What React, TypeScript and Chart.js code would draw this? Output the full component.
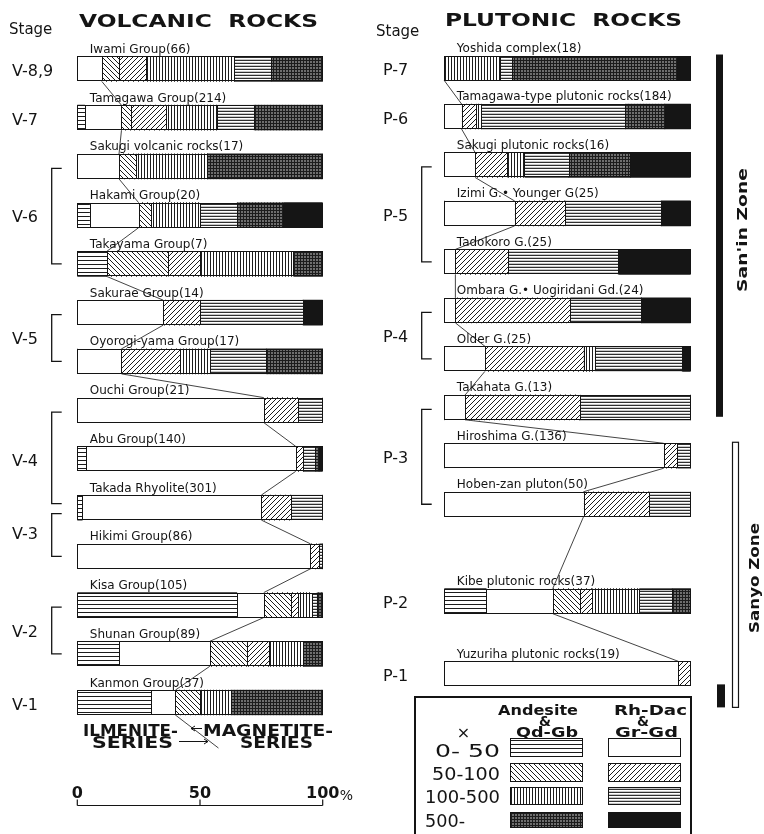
import React, { useEffect, useRef } from "react";
import { Chart, registerables } from "chart.js";

Chart.register(...registerables);

// ---------------- categories ----------------
const susceptibilityClasses = [
  "Andesite & Qd-Gb 0-50",
  "Rh-Dac & Gr-Gd 0-50",
  "Andesite & Qd-Gb 50-100",
  "Rh-Dac & Gr-Gd 50-100",
  "Andesite & Qd-Gb 100-500",
  "Rh-Dac & Gr-Gd 100-500",
  "Andesite & Qd-Gb 500-",
  "Rh-Dac & Gr-Gd 500-",
];
const legendRanges = ["0- 50", "50-100", "100-500", "500-"];
const scaleTicks = [0, 50, 100];

// ---------------- volcanic rocks (percent) ----------------
const volcanicGroups = [
  "Iwami Group(66)",
  "Tamagawa Group(214)",
  "Sakugi volcanic rocks(17)",
  "Hakami Group(20)",
  "Takayama Group(7)",
  "Sakurae Group(14)",
  "Oyorogi-yama Group(17)",
  "Ouchi Group(21)",
  "Abu Group(140)",
  "Takada Rhyolite(301)",
  "Hikimi Group(86)",
  "Kisa Group(105)",
  "Shunan Group(89)",
  "Kanmon Group(37)",
];
const volAnd0_50 = [0, 3, 0, 5, 12, 0, 0, 0, 3.5, 2, 0, 65, 17, 30];
const volRhy0_50 = [10, 15, 17, 20, 0, 35, 18, 76, 85.5, 73, 95, 11, 37, 10];
const volAnd50_100 = [7, 4, 7, 5, 25, 0, 0, 0, 0, 0, 0, 11, 15, 10];
const volRhy50_100 = [11, 14, 0, 0, 13, 15, 24, 14, 3, 12, 3.5, 3, 9, 0];
const volAnd100_500 = [36, 21, 29, 20, 38, 0, 12, 0, 0, 0, 0, 5.5, 14, 12.5];
const volRhy100_500 = [15, 15, 0, 15, 0, 42, 23, 10, 5, 13, 1.5, 2, 0, 0];
const volAnd500 = [21, 28, 47, 19, 12, 0, 23, 0, 1.5, 0, 0, 2.5, 8, 37.5];
const volRhy500 = [0, 0, 0, 16, 0, 8, 0, 0, 1.5, 0, 0, 0, 0, 0];

const volcanicStageLabels = ["V-8,9", "V-7", "V-6", "V-5", "V-4", "V-3", "V-2", "V-1"];
const volcanicStageFirst = [0, 1, 2, 5, 7, 9, 11, 13];
const volcanicStageLast = [0, 1, 4, 6, 9, 10, 12, 13];

// ---------------- plutonic rocks (percent) ----------------
const plutonicGroups = [
  "Yoshida complex(18)",
  "Tamagawa-type plutonic rocks(184)",
  "Sakugi plutonic rocks(16)",
  "Izimi G.• Younger G(25)",
  "Tadokoro G.(25)",
  "Ombara G.• Uogiridani Gd.(24)",
  "Older G.(25)",
  "Takahata G.(13)",
  "Hiroshima G.(136)",
  "Hoben-zan pluton(50)",
  "Kibe plutonic rocks(37)",
  "Yuzuriha plutonic rocks(19)",
];
const pluAnd0_50 = [0, 0, 0, 0, 0, 0, 0, 0, 0, 0, 17, 0];
const pluRhy0_50 = [0, 7, 12.5, 28.5, 4.5, 4.5, 16.5, 8.5, 89, 56.5, 27, 95];
const pluAnd50_100 = [0, 0, 0, 0, 0, 0, 0, 0, 0, 0, 11, 0];
const pluRhy50_100 = [0, 6, 13, 20.5, 21.5, 46.5, 40, 46.5, 5.5, 26.5, 5, 5];
const pluAnd100_500 = [22.5, 2, 7, 0, 0, 0, 4.5, 0, 0, 0, 19, 0];
const pluRhy100_500 = [5, 58.5, 18, 39, 44.5, 29, 35.5, 45, 5.5, 17, 13.5, 0];
const pluAnd500 = [67, 16, 25, 0, 0, 0, 0, 0, 0, 0, 7.5, 0];
const pluRhy500 = [5.5, 10.5, 24.5, 12, 29.5, 20, 3.5, 0, 0, 0, 0, 0];

// row slot of each plutonic bar on a half-row grid (layout)
const plutonicRowSlot = [0, 2, 4, 6, 8, 10, 12, 14, 16, 18, 22, 25];
const plutonicSlotCount = 26;

const plutonicStageLabels = ["P-7", "P-6", "P-5", "P-4", "P-3", "P-2", "P-1"];
const plutonicStageFirst = [0, 1, 2, 5, 7, 10, 11];
const plutonicStageLast = [0, 1, 4, 6, 9, 10, 11];

const volcanicMatrix = [volAnd0_50, volRhy0_50, volAnd50_100, volRhy50_100, volAnd100_500, volRhy100_500, volAnd500, volRhy500];
const plutonicMatrix = [pluAnd0_50, pluRhy0_50, pluAnd50_100, pluRhy50_100, pluAnd100_500, pluRhy100_500, pluAnd500, pluRhy500];

// ---------------- drawing helpers ----------------
const INK = "#141414";
const SANS = '"DejaVu Sans", "Liberation Sans", sans-serif';

function tile(ctx: CanvasRenderingContext2D, w: number, h: number, draw: (t: CanvasRenderingContext2D) => void) {
  const c = document.createElement("canvas");
  c.width = w;
  c.height = h;
  const t = c.getContext("2d")!;
  t.fillStyle = "#ffffff";
  t.fillRect(0, 0, w, h);
  draw(t);
  return ctx.createPattern(c, "repeat")!;
}

function makePatterns(ctx: CanvasRenderingContext2D): any[] {
  const ink = "#1c1c1c";
  return [
    tile(ctx, 1, 4, (t) => { t.fillStyle = ink; t.fillRect(0, 0, 1, 1); }),
    "#ffffff",
    tile(ctx, 5, 5, (t) => { t.fillStyle = ink; for (let i = 0; i < 5; i++) t.fillRect(i, i, 1, 1); }),
    tile(ctx, 5, 5, (t) => { t.fillStyle = ink; for (let i = 0; i < 5; i++) t.fillRect(i, 4 - i, 1, 1); }),
    tile(ctx, 3, 1, (t) => { t.fillStyle = ink; t.fillRect(0, 0, 1, 1); }),
    tile(ctx, 1, 3, (t) => { t.fillStyle = "#303030"; t.fillRect(0, 0, 1, 1); t.fillStyle = "#c8c8c8"; t.fillRect(0, 2, 1, 1); }),
    tile(ctx, 3, 3, (t) => {
      t.fillStyle = "#6e6e6e"; t.fillRect(0, 0, 3, 3);
      t.fillStyle = ink; t.fillRect(0, 0, 3, 1); t.fillRect(0, 0, 1, 3);
    }),
    "#151515",
  ];
}

function fitText(ctx: CanvasRenderingContext2D, text: string, x0: number, x1: number, baseline: number, font: string) {
  ctx.save();
  ctx.font = font;
  ctx.fillStyle = INK;
  ctx.textAlign = "left";
  ctx.textBaseline = "alphabetic";
  const w = ctx.measureText(text).width || 1;
  ctx.translate(x0, baseline);
  ctx.scale((x1 - x0) / w, 1);
  ctx.fillText(text, 0, 0);
  ctx.restore();
}

function rotatedText(ctx: CanvasRenderingContext2D, text: string, cx: number, cy: number, length: number, font: string) {
  ctx.save();
  ctx.font = font;
  ctx.fillStyle = INK;
  ctx.translate(cx, cy);
  ctx.rotate(-Math.PI / 2);
  const w = ctx.measureText(text).width || 1;
  ctx.scale(length / w, 1);
  ctx.textAlign = "center";
  ctx.textBaseline = "middle";
  ctx.fillText(text, 0, 0);
  ctx.restore();
}

function seg(ctx: CanvasRenderingContext2D, x0: number, y0: number, x1: number, y1: number, lw = 1) {
  ctx.save();
  ctx.strokeStyle = INK;
  ctx.lineWidth = lw;
  ctx.beginPath();
  ctx.moveTo(x0, y0);
  ctx.lineTo(x1, y1);
  ctx.stroke();
  ctx.restore();
}

function arrowHead(ctx: CanvasRenderingContext2D, x: number, y: number, dir: number) {
  seg(ctx, x, y, x - dir * 4, y - 2.5, 1);
  seg(ctx, x, y, x - dir * 4, y + 2.5, 1);
}

function rowsGeometry(chart: any, matrix: number[][], n: number) {
  const xs = chart.scales.x;
  const meta0 = chart.getDatasetMeta(0);
  const out: any[] = [];
  for (let i = 0; i < n; i++) {
    const el: any = meta0.data[i];
    const h = el.height || 25;
    const vals = matrix.map((a) => a[i]);
    let cum = 0;
    const cuts: number[] = [];
    vals.forEach((v) => { if (v > 0) { cum += v; cuts.push(cum); } });
    cuts.pop();
    out.push({
      y: el.y,
      top: el.y - h / 2,
      bottom: el.y + h / 2,
      left: xs.getPixelForValue(0),
      right: xs.getPixelForValue(cum),
      cuts: cuts.map((c) => xs.getPixelForValue(c)),
      split: xs.getPixelForValue(vals[0] + vals[1]),
    });
  }
  return out;
}

function drawBars(ctx: CanvasRenderingContext2D, rows: any[], names: string[]) {
  ctx.save();
  ctx.strokeStyle = INK;
  ctx.lineWidth = 1;
  rows.forEach((r) => {
    const t = Math.round(r.top) + 0.5;
    const b = Math.round(r.bottom) - 0.5;
    const l = Math.round(r.left) + 0.5;
    const rr = Math.round(r.right) - 0.5;
    ctx.strokeRect(l, t, rr - l, b - t);
    r.cuts.forEach((x: number) => {
      const xx = Math.round(x) + 0.5;
      ctx.beginPath();
      ctx.moveTo(xx, t);
      ctx.lineTo(xx, b);
      ctx.stroke();
    });
  });
  ctx.restore();
  // connectors along the ilmenite / magnetite boundary
  for (let i = 0; i < rows.length - 1; i++) {
    seg(ctx, rows[i].split, rows[i].bottom, rows[i + 1].split, rows[i + 1].top, 0.8);
  }
  // group labels
  ctx.save();
  ctx.fillStyle = INK;
  ctx.font = `12px ${SANS}`;
  ctx.textAlign = "left";
  ctx.textBaseline = "alphabetic";
  rows.forEach((r, i) => ctx.fillText(names[i], r.left + 12.5, r.top - 3.5));
  ctx.restore();
}

function drawStages(ctx: CanvasRenderingContext2D, rows: any[], labels: string[], first: number[], last: number[], labelX: number, bracketX: number) {
  ctx.save();
  ctx.fillStyle = INK;
  ctx.font = `16px ${SANS}`;
  ctx.textAlign = "left";
  ctx.textBaseline = "middle";
  labels.forEach((lab, s) => {
    const a = rows[first[s]];
    const b = rows[last[s]];
    ctx.fillText(lab, labelX, (a.y + b.y) / 2 + 3);
    if (first[s] !== last[s]) {
      let top = a.y + 2;
      let bot = b.y;
      if (s + 1 < labels.length && first[s + 1] === last[s]) bot -= 4;
      if (s > 0 && last[s - 1] === first[s]) top += 4;
      ctx.strokeStyle = INK;
      ctx.lineWidth = 1.3;
      ctx.beginPath();
      ctx.moveTo(bracketX + 10, top);
      ctx.lineTo(bracketX, top);
      ctx.lineTo(bracketX, bot);
      ctx.lineTo(bracketX + 10, bot);
      ctx.stroke();
    }
  });
  ctx.restore();
}

const volcanicDecor = {
  id: "volcanicDecor",
  afterDraw(chart: any) {
    const ctx: CanvasRenderingContext2D = chart.ctx;
    const rows = rowsGeometry(chart, volcanicMatrix, volcanicGroups.length);
    drawBars(ctx, rows, volcanicGroups);
    drawStages(ctx, rows, volcanicStageLabels, volcanicStageFirst, volcanicStageLast, 12, 51.7);

    fitText(ctx, "VOLCANIC  ROCKS", 79, 318, 26.7, `bold 17px ${SANS}`);
    ctx.save();
    ctx.fillStyle = INK;
    ctx.font = `15px ${SANS}`;
    ctx.textBaseline = "alphabetic";
    ctx.fillText("Stage", 9, 34);
    ctx.restore();

    // ilmenite / magnetite series
    const last = rows[rows.length - 1];
    seg(ctx, last.split, last.bottom, last.split + 43, last.bottom + 33, 0.8);
    const heavy = `bold 15px ${SANS}`;
    fitText(ctx, "ILMENITE-", 83, 178, 735.5, heavy);
    fitText(ctx, "SERIES", 92, 173, 747.5, heavy);
    fitText(ctx, "MAGNETITE-", 203, 333, 735.5, heavy);
    fitText(ctx, "SERIES", 240, 313, 747.5, heavy);
    seg(ctx, 202, 728.5, 191, 728.5, 1);
    arrowHead(ctx, 191, 728.5, -1);
    seg(ctx, 179, 741.5, 208, 741.5, 1);
    arrowHead(ctx, 208, 741.5, 1);

    // percentage scale
    const xs = chart.scales.x;
    const x0 = xs.getPixelForValue(scaleTicks[0]);
    const x1 = xs.getPixelForValue(scaleTicks[scaleTicks.length - 1]);
    seg(ctx, x0, 805.5, x1, 805.5, 1.2);
    ctx.save();
    ctx.fillStyle = INK;
    ctx.font = `bold 16px ${SANS}`;
    ctx.textAlign = "center";
    ctx.textBaseline = "alphabetic";
    scaleTicks.forEach((v) => {
      const x = xs.getPixelForValue(v);
      seg(ctx, x, 799.5, x, 805.5, 1.2);
      ctx.fillText(String(v), x, 798);
    });
    ctx.font = `14px ${SANS}`;
    ctx.textAlign = "left";
    ctx.fillText("%", x1 + 17, 800);
    ctx.restore();
  },
};

function makePlutonicDecor(patterns: any[]) {
  return {
    id: "plutonicDecor",
    afterDraw(chart: any) {
      const ctx: CanvasRenderingContext2D = chart.ctx;
      const rows = rowsGeometry(chart, plutonicMatrix, plutonicGroups.length);
      drawBars(ctx, rows, plutonicGroups);
      drawStages(ctx, rows, plutonicStageLabels, plutonicStageFirst, plutonicStageLast, 13, 51.7);

      fitText(ctx, "PLUTONIC  ROCKS", 75, 312, 26, `bold 17px ${SANS}`);
      ctx.save();
      ctx.fillStyle = INK;
      ctx.font = `15px ${SANS}`;
      ctx.textBaseline = "alphabetic";
      ctx.fillText("Stage", 6, 36);
      ctx.restore();

      // zone bars
      ctx.save();
      ctx.fillStyle = INK;
      const sanTop = rows[0].top - 1;
      const sanBot = rows[7].bottom - 3;
      ctx.fillRect(346, sanTop, 7, sanBot - sanTop);
      const syTop = rows[8].top - 1;
      const syBot = rows[11].bottom + 21;
      ctx.strokeStyle = INK;
      ctx.lineWidth = 1.2;
      ctx.strokeRect(362.5, syTop, 6, syBot - syTop);
      ctx.fillRect(347, rows[11].bottom - 2, 8, 23);
      ctx.restore();
      rotatedText(ctx, "San'in Zone", 373, 230, 124, `bold 14px ${SANS}`);
      rotatedText(ctx, "Sanyo Zone", 385.5, 578, 110, `bold 14px ${SANS}`);

      // legend
      ctx.save();
      ctx.strokeStyle = INK;
      ctx.lineWidth = 2;
      ctx.strokeRect(45, 697, 276, 160);
      ctx.restore();
      const hb = `bold 14px ${SANS}`;
      fitText(ctx, "Andesite", 128, 208, 715, hb);
      fitText(ctx, "&", 169, 181, 725.5, hb);
      fitText(ctx, "Qd-Gb", 146, 208, 737, hb);
      fitText(ctx, "Rh-Dac", 244, 317, 715, hb);
      fitText(ctx, "&", 267, 279, 725.5, hb);
      fitText(ctx, "Gr-Gd", 245, 308, 737, hb);
      ctx.save();
      ctx.fillStyle = INK;
      ctx.font = `16px ${SANS}`;
      ctx.textAlign = "center";
      ctx.fillText("×", 93.5, 738);
      ctx.restore();
      const rowFont = `17px ${SANS}`;
      const labelSpans = [[65, 130], [62, 130], [55, 130], [55, 95]];
      const labelBase = [757, 780, 803, 827];
      const swTop = [738, 763, 787, 812];
      const swH = [19, 19, 18, 16];
      legendRanges.forEach((lab, k) => {
        fitText(ctx, lab, labelSpans[k][0], labelSpans[k][1], labelBase[k], rowFont);
        [0, 1].forEach((side) => {
          const x = side === 0 ? 140 : 238;
          ctx.save();
          ctx.fillStyle = patterns[k * 2 + side];
          ctx.fillRect(x, swTop[k], 73, swH[k]);
          ctx.strokeStyle = INK;
          ctx.lineWidth = 1;
          ctx.strokeRect(x + 0.5, swTop[k] + 0.5, 72, swH[k] - 1);
          ctx.restore();
        });
      });
    },
  };
}

function baseOptions(padding: any): any {
  return {
    responsive: false,
    animation: false,
    indexAxis: "y",
    events: [],
    layout: { padding },
    scales: {
      x: { type: "linear", min: 0, max: 100, stacked: true, display: false },
      y: { type: "category", stacked: true, display: false },
    },
    plugins: {
      legend: { display: false },
      tooltip: { enabled: false },
      title: { display: false },
    },
  };
}

export default function App() {
  const leftRef = useRef<HTMLCanvasElement>(null);
  const rightRef = useRef<HTMLCanvasElement>(null);

  useEffect(() => {
    const lc = leftRef.current!;
    const rc = rightRef.current!;
    const lp = makePatterns(lc.getContext("2d")!);
    const rp = makePatterns(rc.getContext("2d")!);

    const left = new Chart(lc, {
      type: "bar",
      data: {
        labels: volcanicGroups,
        datasets: volcanicMatrix.map((arr, k) => ({
          label: susceptibilityClasses[k],
          data: arr,
          backgroundColor: lp[k],
          borderWidth: 0,
          barThickness: 25,
        })),
      },
      options: baseOptions({ left: 77.3, right: 47.3, top: 44.6, bottom: 107.1 }),
      plugins: [volcanicDecor],
    } as any);

    const rowLabels = Array.from({ length: plutonicSlotCount }, (_, s) => {
      const i = plutonicRowSlot.indexOf(s);
      return i >= 0 ? plutonicGroups[i] : " ".repeat(s + 1);
    });

    const right = new Chart(rc, {
      type: "bar",
      data: {
        labels: rowLabels,
        datasets: plutonicMatrix.map((arr, k) => ({
          label: susceptibilityClasses[k],
          data: arr.map((v, i) => ({ x: v, y: plutonicGroups[i] })),
          backgroundColor: rp[k],
          borderWidth: 0,
          barThickness: 25,
        })),
      },
      options: baseOptions({ left: 74.3, right: 73.3, top: 55.9, bottom: 148 }),
      plugins: [makePlutonicDecor(rp)],
    } as any);

    return () => {
      left.destroy();
      right.destroy();
    };
  }, []);

  return (
    <div style={{ position: "absolute", left: 0, top: 0, width: 764, height: 834, background: "#ffffff", overflow: "hidden" }}>
      <canvas ref={leftRef} width={370} height={834} style={{ position: "absolute", left: 0, top: 0, width: 370, height: 834 }} />
      <canvas ref={rightRef} width={394} height={834} style={{ position: "absolute", left: 370, top: 0, width: 394, height: 834 }} />
    </div>
  );
}
